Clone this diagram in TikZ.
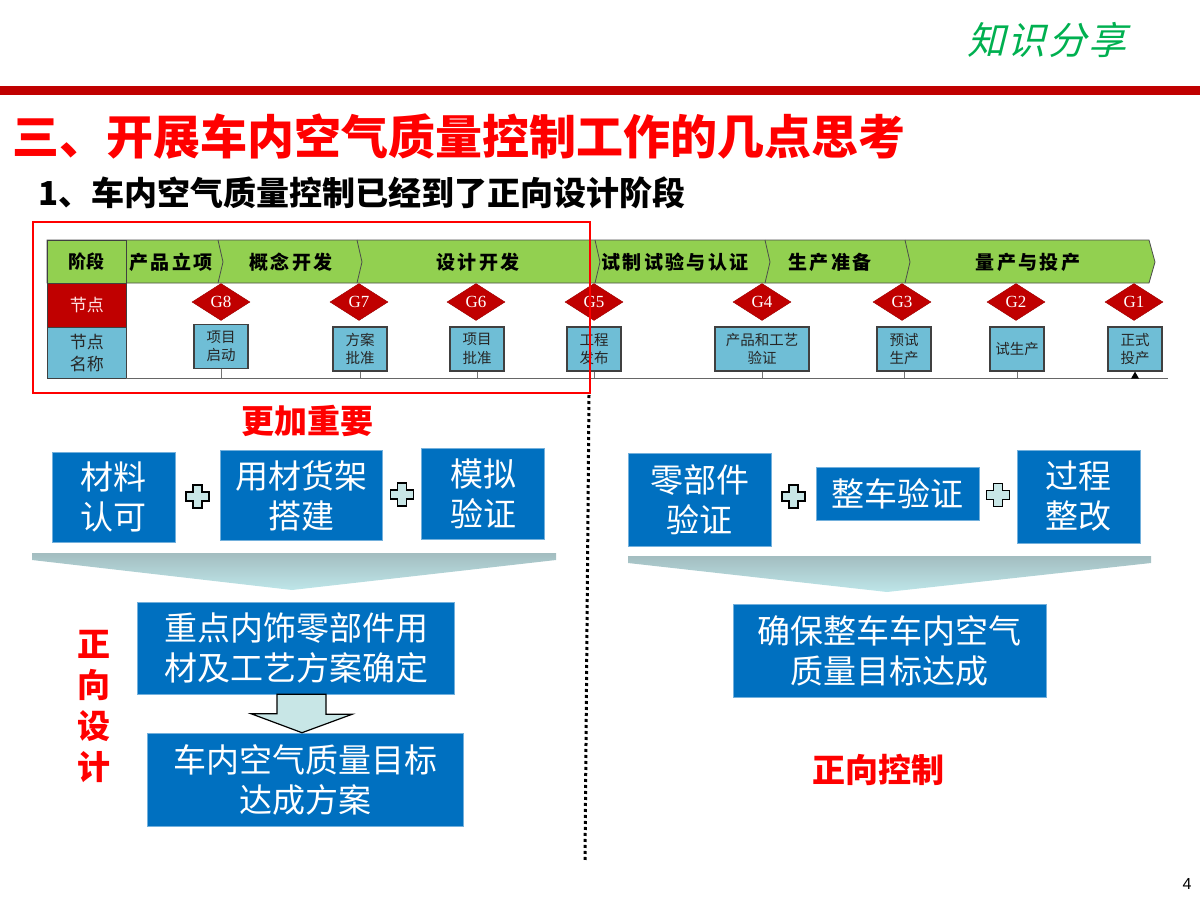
\documentclass[tikz,border=0pt]{standalone}
\usepackage{fontspec}
\setmainfont{Noto Sans CJK SC}
\newfontfamily\gatefont{Liberation Serif}
\newfontfamily\numfont{Liberation Sans}
\usetikzlibrary{calc,positioning,shapes.geometric}
\definecolor{barred}{HTML}{C00000}
\definecolor{gatered}{HTML}{C00000}
\definecolor{bandgreen}{HTML}{92D050}
\definecolor{cellblue}{HTML}{6FBED6}
\definecolor{boxblue}{HTML}{0070C0}
\definecolor{plusfill}{HTML}{C8E6E6}
\definecolor{sharegreen}{HTML}{00B050}
\definecolor{funneltop}{HTML}{A3BDC0}
\definecolor{funnelbot}{HTML}{BEE6E9}

\begin{document}
\begin{tikzpicture}[x=1pt,y=-1pt]
        % Setup the styles for the cells, gates and boxes
        \tikzset{head cell/.style={rectangle,
                                   draw=black!75,
                                   line width=0.8pt,
                                   minimum width=79pt,
                                   anchor=north west,
                                   inner sep=0pt,
                                   align=center},
                 phase text/.style={font=\bfseries\fontsize{19}{19}\selectfont\addfontfeature{LetterSpace=12}},
                 gate style/.style={diamond,
                                    aspect=1.6,
                                    minimum width=58pt,
                                    minimum height=37pt,
                                    inner sep=0pt,
                                    fill=gatered,
                                    draw=gatered!80!black,
                                    text=white,
                                    font=\gatefont\fontsize{17}{17}\selectfont},
                 name style/.style={rectangle,
                                    minimum width=54pt,
                                    minimum height=44pt,
                                    inner sep=1pt,
                                    fill=cellblue,
                                    draw=black!75,
                                    line width=1.2pt,
                                    align=center,
                                    text=black!85,
                                    font=\fontsize{14.5}{18.5}\selectfont},
                 blue box/.style={rectangle,
                                  inner sep=0pt,
                                  fill=boxblue,
                                  draw=boxblue!55!white,
                                  line width=0.6pt,
                                  text=white,
                                  align=center,
                                  font=\fontsize{33}{40}\selectfont},
                 red note/.style={text=red,
                                  align=center,
                                  font=\bfseries\fontsize{33}{41}\selectfont},
                 funnel/.style={top color=funneltop, bottom color=funnelbot},
                 stem/.style={black!55, line width=1pt},
                 plus sign/.pic={\draw[fill=plusfill, line width=1.8pt]
                     (-4.5,-11.5) -- (4.5,-11.5) -- (4.5,-4.5) -- (11.5,-4.5) -- (11.5,4.5) -- (4.5,4.5) -- (4.5,11.5)
                     -- (-4.5,11.5) -- (-4.5,4.5) -- (-11.5,4.5) -- (-11.5,-4.5) -- (-4.5,-4.5) -- cycle;}}

        \useasboundingbox (0,0) rectangle (1200,900);

        % Draw the header
        \fill[barred] (0,86) rectangle (1200,95);
        \node[text=sharegreen, font=\fontsize{38}{38}\selectfont\addfontfeature{FakeSlant=0.25,LetterSpace=6}] (share) at (1047,40) {知识分享};
        \node[anchor=west, inner sep=0pt, text=red, font=\bfseries\fontsize{47}{47}\selectfont] (title) at (12,137) {三、开展车内空气质量控制工作的几点思考};
        \node[anchor=west, inner sep=0pt, font=\bfseries\fontsize{33}{33}\selectfont] (sub) at (38,193) {1、车内空气质量控制已经到了正向设计阶段};

        % Draw the phase band
        \draw[fill=bandgreen, draw=black!70, line width=0.8pt]
            (47,240) -- (1149,240) -- (1155,262) -- (1149,283) -- (47,283) -- cycle;
        \draw[black!70, line width=0.8pt]
            (218,240) -- (223,262) -- (218,283)
            (357,240) -- (362,262) -- (357,283)
            (595,240) -- (600,262) -- (595,283)
            (765,240) -- (770,262) -- (765,283)
            (905,240) -- (910,262) -- (905,283);

        % Draw the head cells
        \node[head cell, fill=bandgreen, minimum height=43pt, font=\bfseries\fontsize{18}{18}\selectfont] (stage) at (47,240) {阶段};
        \node[head cell, fill=barred, minimum height=44pt, text=white!90!red, font=\fontsize{17}{17}\selectfont] (gaterow) at (47,283) {节点};
        \node[head cell, fill=cellblue, minimum height=51pt, text=black!85, font=\fontsize{17}{22}\selectfont] (namerow) at (47,327) {节点\\名称};

        % Draw the phase labels
        \node[phase text] (p1) at (171,262)  {产品立项};
        \node[phase text] (p2) at (291,262)  {概念开发};
        \node[phase text] (p3) at (478,262)  {设计开发};
        \node[phase text] (p4) at (675,262)  {试制试验与认证};
        \node[phase text] (p5) at (830,262)  {生产准备};
        \node[phase text] (p6) at (1028,262) {量产与投产};

        % Draw the gates
        \node[gate style] (g8) at (221,302)  {G8};
        \node[gate style] (g7) at (359,302)  {G7};
        \node[gate style] (g6) at (476,302)  {G6};
        \node[gate style] (g5) at (594,302)  {G5};
        \node[gate style] (g4) at (762,302)  {G4};
        \node[gate style] (g3) at (902,302)  {G3};
        \node[gate style] (g2) at (1016,302) {G2};
        \node[gate style] (g1) at (1134,302) {G1};

        % Draw the gate names
        \node[name style] (n8) at (221,346.5) {项目\\启动};
        \node[name style] (n7) at (360,349)   {方案\\批准};
        \node[name style] (n6) at (477,349)   {项目\\批准};
        \node[name style] (n5) at (594,349)   {工程\\发布};
        \node[name style, minimum width=94pt] (n4) at (762,349) {产品和工艺\\验证};
        \node[name style] (n3) at (904,349)   {预试\\生产};
        \node[name style] (n2) at (1017,349)  {试生产};
        \node[name style] (n1) at (1135,349)  {正式\\投产};

        % Connect the names with the axis
        \coordinate (axis)    at (126,378);
        \coordinate (axisend) at (1168,378);
        \draw[black!60, line width=1pt] (axis) -- (axisend);
        \draw[stem]
            (n8.south) -- (n8.south |- axis)
            (n7.south) -- (n7.south |- axis)
            (n6.south) -- (n6.south |- axis)
            (n5.south) -- (n5.south |- axis)
            (n4.south) -- (n4.south |- axis)
            (n3.south) -- (n3.south |- axis)
            (n2.south) -- (n2.south |- axis);
        \fill (n1.south) ++(-4,7) -- ++(8,0) -- ++(-4,-7) -- cycle;

        % Draw the frame and the divider
        \draw[red, line width=2.5pt] (33,222) rectangle (590,393);
        \draw[line width=3pt, dash pattern=on 3pt off 3pt] (589,395) -- (585,860);

        % Draw the left column
        \node[red note] (more) at (307,421) {更加重要};
        \node[blue box, minimum width=123pt, minimum height=90pt] (mat)  at (113.5,497) {材料\\认可};
        \node[blue box, minimum width=162pt, minimum height=90pt] (rack) at (301.5,495.5) {用材货架\\搭建};
        \node[blue box, minimum width=123pt, minimum height=91pt] (sim)  at (483,494) {模拟\\验证};
        \pic at ($(mat.east)!0.5!(rack.west)$) {plus sign};
        \pic at ($(rack.east)!0.5!(sim.west)$) {plus sign};
        \shade[funnel] (32,553) -- (556,553) -- (556,560) -- (292,590) -- (32,560) -- cycle;
        \node[blue box, minimum width=317pt, minimum height=92pt] (trim) at (296,648) {重点内饰零部件用\\材及工艺方案确定};
        \node[blue box, minimum width=316pt, minimum height=93pt] (plan) at (305,779.5) {车内空气质量目标\\达成方案};
        \coordinate (arrtop) at ($(trim.south)+(6,0)$);
        \draw[fill=plusfill, line width=1.2pt]
            (arrtop) ++(-25,0) -- ++(49,0) -- ++(0,20) -- ++(26,0) -- (arrtop |- plan.north)
            -- ++(-51,-19) -- ++(26,0) -- cycle;
        \node[red note] (fwd) at (94,707) {正\\向\\设\\计};

        % Draw the right column
        \node[blue box, minimum width=143pt, minimum height=93pt] (parts) at (699.5,499.5) {零部件\\验证};
        \node[blue box, minimum width=163pt, minimum height=53pt] (veh)   at (897.5,493.5) {整车验证};
        \node[blue box, minimum width=123pt, minimum height=93pt] (proc)  at (1078.5,496.5) {过程\\整改};
        \pic at ($(parts.east)!0.5!(veh.west)$) {plus sign};
        \pic at ($(veh.east)!0.5!(proc.west)$) {plus sign};
        \shade[funnel] (628,556) -- (1151,556) -- (1151,563) -- (887,592) -- (628,563) -- cycle;
        \node[blue box, minimum width=313pt, minimum height=93pt] (ensure) at (889.5,650.5) {确保整车车内空气\\质量目标达成};
        \node[red note] (ctrl) at (878,770) {正向控制};

        % Page number
        \node[font=\numfont\fontsize{16}{16}\selectfont] (page) at (1187,884) {4};
    \end{tikzpicture}
\end{document}
